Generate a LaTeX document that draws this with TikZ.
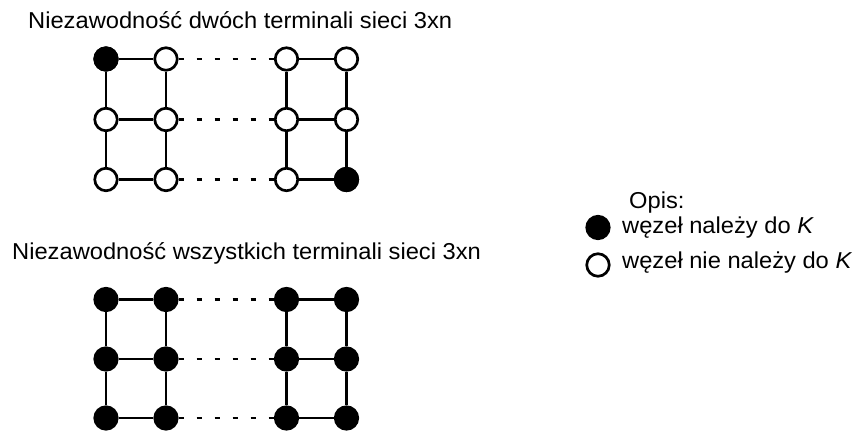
\documentclass[tikz,border=0pt]{standalone}
\usepackage{fontspec}
\newfontfamily\lab{Liberation Sans}[FakeStretch=1.03]
\begin{document}
\begin{tikzpicture}[x=1pt,y=-1pt,
  vtx/.style={circle,draw=black,line width=2.7pt,minimum size=22.5pt,inner sep=0pt},
  wnode/.style={vtx,fill=white},
  bnode/.style={vtx,fill=black},
  edge/.style={line width=2.7pt},
  gap/.style={line width=2.8pt,dash pattern=on 5pt off 13pt},
  txt/.style={anchor=base west,inner sep=0pt,font=\lab\fontsize{23}{27}\selectfont}]
\useasboundingbox (0,0) rectangle (861,432);
% titles
\node[txt] (title1) at (28,28) {Niezawodność dwóch terminali sieci 3xn};
\node[txt] (title2) at (12,259) {Niezawodność wszystkich terminali sieci 3xn};
% top grid
\foreach \r/\y in {1/59,2/119.5,3/179.5}{
  \foreach \c/\x in {1/106,2/166,3/286.5,4/346.5}{
    \node[wnode] (t\r\c) at (\x,\y) {};
  }
}
\node[bnode] at (t11) {};
\node[bnode] at (t34) {};
% bottom grid
\foreach \r/\y in {1/299.5,2/359,3/418}{
  \foreach \c/\x in {1/106,2/166,3/286.5,4/346.5}{
    \node[bnode] (b\r\c) at (\x,\y) {};
  }
}
% edges
\foreach \g in {t,b}{
  \foreach \r in {1,2,3}{
    \draw[edge] (\g\r1) -- (\g\r2);
    \draw[edge] (\g\r3) -- (\g\r4);
    \draw[gap] (\g\r2.east) -- (\g\r3.west);
  }
  \foreach \c in {1,2,3,4}{
    \draw[edge] (\g1\c) -- (\g2\c);
    \draw[edge] (\g2\c) -- (\g3\c);
  }
}
% legend
\node[txt] (opis) at (629,208) {Opis:};
\node[bnode] (l1) at (598,227.5) {};
\node[txt] (l1t) at (622,233) {węzeł należy do \textit{K}};
\node[wnode] (l2) at (598,265) {};
\node[txt] (l2t) at (622,268) {węzeł nie należy do \textit{K}};
\end{tikzpicture}
\end{document}
